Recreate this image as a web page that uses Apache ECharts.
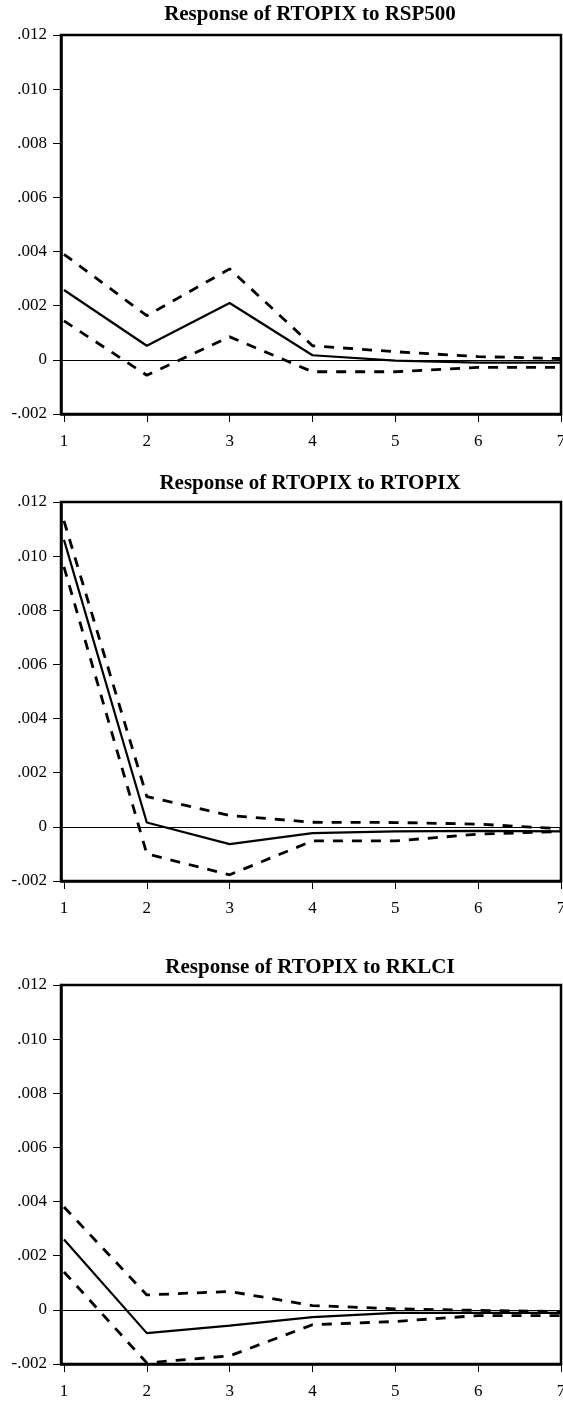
<!DOCTYPE html>
<html>
<head>
<meta charset="utf-8">
<script src="https://cdn.jsdelivr.net/npm/echarts@6/dist/echarts.min.js"></script>
<style>
  html, body { margin: 0; padding: 0; background: #fff; }
  #chart { width: 563px; height: 1401px; }
</style>
</head>
<body>
<div id="chart"></div>
<script>
// ---- data ----
const periods = [1, 2, 3, 4, 5, 6, 7];

const titles = [
  "Response of RTOPIX to RSP500",
  "Response of RTOPIX to RTOPIX",
  "Response of RTOPIX to RKLCI"
];

// Panel 1: shock to RSP500
const respSP500  = [0.00258, 0.00052, 0.00210, 0.00017, -0.00003, -0.00010, -0.00010];
const upperSP500 = [0.00390, 0.00163, 0.00336, 0.00052, 0.00030, 0.00012, 0.00005];
const lowerSP500 = [0.00144, -0.00057, 0.00085, -0.00044, -0.00044, -0.00028, -0.00028];

// Panel 2: shock to RTOPIX
const respTOPIX  = [0.01060, 0.00016, -0.00064, -0.00023, -0.00017, -0.00015, -0.00017];
const upperTOPIX = [0.01130, 0.00112, 0.00042, 0.00017, 0.00016, 0.00010, -0.00007];
const lowerTOPIX = [0.00960, -0.00100, -0.00177, -0.00052, -0.00052, -0.00027, -0.00017];

// Panel 3: shock to RKLCI
const respKLCI  = [0.00260, -0.00086, -0.00058, -0.00027, -0.00011, -0.00011, -0.00011];
const upperKLCI = [0.00380, 0.00055, 0.00068, 0.00016, 0.00004, -0.00002, -0.00006];
const lowerKLCI = [0.00140, -0.00196, -0.00170, -0.00055, -0.00043, -0.00021, -0.00021];

const panels = [
  { title: titles[0], resp: respSP500, upper: upperSP500, lower: lowerSP500 },
  { title: titles[1], resp: respTOPIX, upper: upperTOPIX, lower: lowerTOPIX },
  { title: titles[2], resp: respKLCI,  upper: upperKLCI,  lower: lowerKLCI }
];

// ---- layout (pixels) ----
const gridTops = [35, 502, 985];
const gridHeight = 379;
const titleCenters = [15, 484, 968];
const FONT = '"Liberation Serif", "Times New Roman", serif';

function pairs(ys) { return periods.map((p, i) => [p, ys[i]]); }
function fmtY(v) {
  if (Math.abs(v) < 1e-9) return '0';
  return v.toFixed(3).replace('0.', '.');
}

const grid = [], xAxis = [], yAxis = [], series = [], graphic = [];
panels.forEach((pn, k) => {
  grid.push({
    left: 61, right: 2, top: gridTops[k], height: gridHeight,
    outerBoundsMode: 'none', containLabel: false,
    show: true, borderColor: '#000', borderWidth: 2.5, backgroundColor: 'transparent'
  });
  xAxis.push({
    type: 'value', gridIndex: k, min: 0.964, max: 7,
    axisLine: { show: true, onZero: false, lineStyle: { color: '#000', width: 2.5 } },
    axisTick: { show: true, inside: false, length: 8, customValues: periods, lineStyle: { color: '#000', width: 1 } },
    axisLabel: { show: true, customValues: periods, margin: 19, color: '#000', fontFamily: FONT, fontSize: 17 },
    splitLine: { show: false }
  });
  yAxis.push({
    type: 'value', gridIndex: k, min: -0.002, max: 0.012, interval: 0.002,
    axisLine: { show: true, lineStyle: { color: '#000', width: 2.5 } },
    axisTick: { show: true, inside: false, length: 8, lineStyle: { color: '#000', width: 1 } },
    axisLabel: { show: true, margin: 14, color: '#000', fontFamily: FONT, fontSize: 17, formatter: fmtY },
    splitLine: { show: false }
  });
  series.push({
    type: 'line', xAxisIndex: k, yAxisIndex: k, data: pairs(pn.resp),
    symbol: 'none', lineStyle: { color: '#000', width: 2.2, type: 'solid' },
    z: 3,
    markLine: {
      silent: true, symbol: 'none', label: { show: false },
      lineStyle: { color: '#000', width: 1, type: 'solid' },
      data: [{ yAxis: 0 }]
    }
  });
  series.push({
    type: 'line', xAxisIndex: k, yAxisIndex: k, data: pairs(pn.upper),
    symbol: 'none', lineStyle: { color: '#000', width: 2.8, type: [10, 9] }, z: 3
  });
  series.push({
    type: 'line', xAxisIndex: k, yAxisIndex: k, data: pairs(pn.lower),
    symbol: 'none', lineStyle: { color: '#000', width: 2.8, type: [10, 9] }, z: 3
  });
  graphic.push({
    type: 'text', x: 310, y: titleCenters[k],
    style: {
      text: pn.title, fill: '#000',
      font: 'bold 21px ' + FONT,
      textAlign: 'center', textVerticalAlign: 'middle'
    }
  });
});

const chart = echarts.init(document.getElementById('chart'), null, { renderer: 'canvas' });
chart.setOption({
  animation: false,
  backgroundColor: '#fff',
  grid, xAxis, yAxis, series, graphic
});
</script>
</body>
</html>
